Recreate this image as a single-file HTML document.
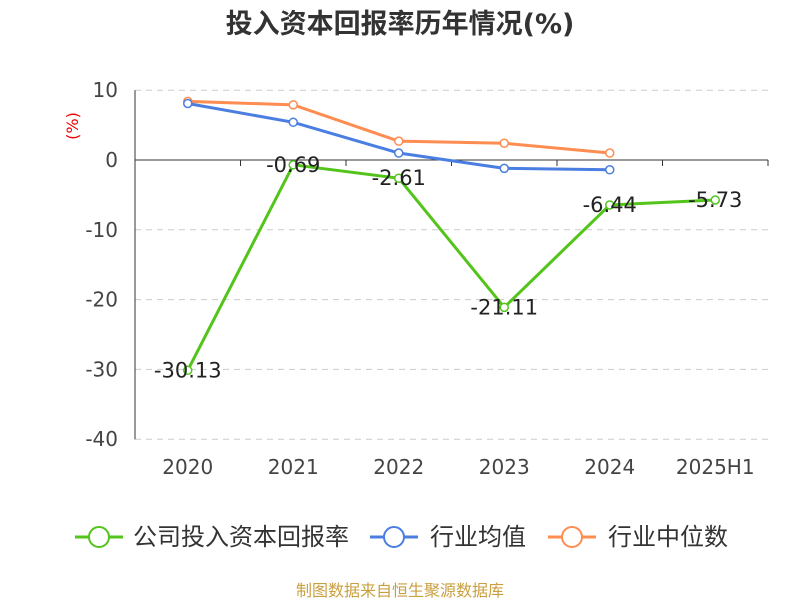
<!DOCTYPE html>
<html><head><meta charset="utf-8"><style>
body{margin:0;background:#fff;width:800px;height:600px;overflow:hidden;font-family:"DejaVu Sans","Noto Sans CJK SC",sans-serif}
</style></head><body>
<svg width="800" height="600" id="c" font-family="DejaVu Sans, Noto Sans CJK SC, sans-serif">
<text x="400" y="33" text-anchor="middle" font-size="27" font-weight="bold" fill="#333">投入资本回报率历年情况(%)</text>
<text x="78" y="126" text-anchor="middle" font-size="16" fill="#e00" transform="rotate(-90 78 126)">(%)</text>
<g id="grid"></g><g id="series"></g>
<g>
<g><line x1="75" y1="537" x2="123" y2="537" stroke="#52c41a" stroke-width="3"/><circle cx="99" cy="537" r="10" fill="#fff" stroke="#52c41a" stroke-width="2"/><text x="133" y="545" font-size="24" fill="#333">公司投入资本回报率</text></g>
<g><line x1="370" y1="537" x2="418" y2="537" stroke="#4a7ee0" stroke-width="3"/><circle cx="394" cy="537" r="10" fill="#fff" stroke="#4a7ee0" stroke-width="2"/><text x="430" y="545" font-size="24" fill="#333">行业均值</text></g>
<g><line x1="548" y1="537" x2="596" y2="537" stroke="#ff8c50" stroke-width="3"/><circle cx="572" cy="537" r="10" fill="#fff" stroke="#ff8c50" stroke-width="2"/><text x="608" y="545" font-size="24" fill="#333">行业中位数</text></g>
</g>
<text x="400" y="596" text-anchor="middle" font-size="16" fill="#c8a040">制图数据来自恒生聚源数据库</text>
</svg>
<script>
const categories=["2020","2021","2022","2023","2024","2025H1"];
const company=[-30.13,-0.69,-2.61,-21.11,-6.44,-5.73];
const industryAvg=[8.1,5.4,1.0,-1.2,-1.4];
const industryMedian=[8.4,7.9,2.7,2.4,1.0];
const yTicks=[10,0,-10,-20,-30,-40];
const NS="http://www.w3.org/2000/svg";
const x0=135,x1=768,bw=(x1-x0)/categories.length;
const X=i=>x0+bw*(i+0.5);
const Y=v=>160-(v)*6.98;
function mk(t,a,p){const e=document.createElementNS(NS,t);for(const k in a)e.setAttribute(k,a[k]);p.appendChild(e);return e;}
const g=document.getElementById('grid'),s=document.getElementById('series');
yTicks.forEach(v=>{
 if(v!==0){const l=mk('line',{x1:x0,x2:x1,y1:Y(v),y2:Y(v),stroke:'#ccc','stroke-dasharray':'6,5'},g);
 
 }
 const t=mk('text',{x:118,y:Y(v)+7,'text-anchor':'end','font-size':20,fill:'#444'},g);t.textContent=v;
 
 
});
const ya=mk('line',{x1:x0,x2:x0,y1:Y(10),y2:Y(-40),stroke:'#333'},g);


const xa=mk('line',{x1:x0,x2:x1,y1:Y(0),y2:Y(0),stroke:'#333'},g);


categories.forEach((c,i)=>{
 mk('line',{x1:x0+bw*i,x2:x0+bw*i,y1:Y(0),y2:Y(0)+6,stroke:'#333'},g);
 const t=mk('text',{x:X(i),y:474,'text-anchor':'middle','font-size':20,fill:'#444'},g);t.textContent=c;
 
 
});
mk('line',{x1:x1,x2:x1,y1:Y(0),y2:Y(0)+6,stroke:'#333'},g);
function series(data,color,name,labels){
 const p=mk('polyline',{points:data.map((v,i)=>X(i)+','+Y(v)).join(' '),fill:'none',stroke:color,'stroke-width':3},s);
 
 
 data.forEach((v,i)=>{
  const c=mk('circle',{cx:X(i),cy:Y(v),r:4,fill:'#fff',stroke:color,'stroke-width':1.5},s);
  
  
  if(labels){const t=mk('text',{x:X(i),y:Y(v)+7,'text-anchor':'middle','font-size':21,fill:'#222'},s);t.textContent=v.toFixed(2);
  
  }
 });
}
series(industryMedian,'#ff8c50','industry-median',false);
series(industryAvg,'#4a7ee0','industry-avg',false);
series(company,'#52c41a','company',true);
</script>
</body></html>
